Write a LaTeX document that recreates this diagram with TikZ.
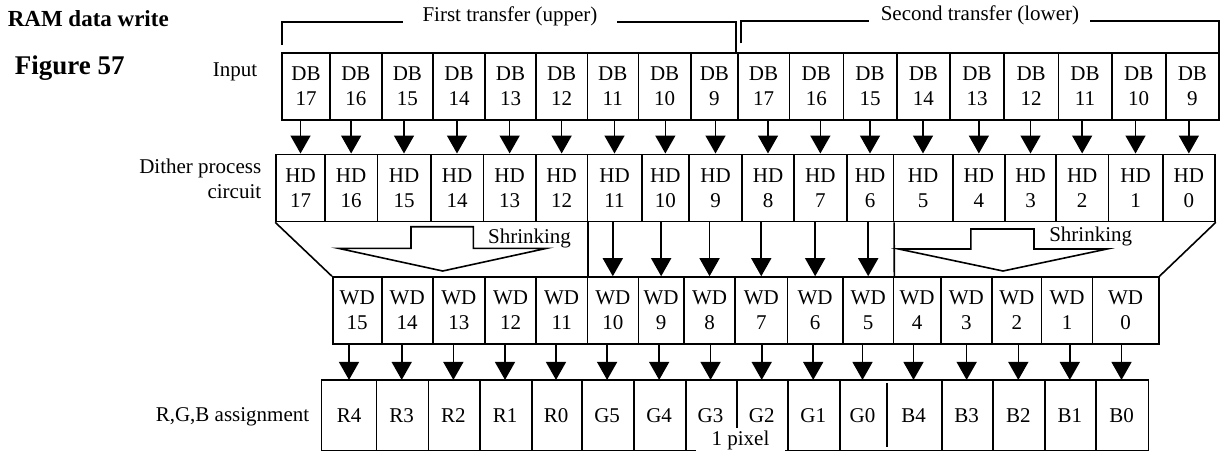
\documentclass[tikz,border=0pt]{standalone}
\usepackage{fontspec}
\setmainfont{Liberation Serif}
\usetikzlibrary{arrows.meta}
\newcommand\mkcell[7]{\node[#1, minimum width={(#4-#3)*1pt}, minimum height={(#6-#5)*1pt}] (#2) at ({(#3+#4)/2},{(#5+#6)/2}) {#7};}
\begin{document}
\begin{tikzpicture}[x=1pt,y=-1pt, line width=1.6pt,
  cellbox/.style={draw, inner sep=0pt, align=center, font=\fontsize{21}{25}\selectfont},
  rcell/.style={inner sep=0pt, text height=14.5pt, text depth=0pt, font=\fontsize{21}{25}\selectfont},
  arr/.style={-{Triangle[width=20pt,length=18pt]}},
  lbl/.style={font=\fontsize{21}{25}\selectfont, inner sep=0pt},
  outline/.style={line join=miter}]
\useasboundingbox (0,0) rectangle (1222,451);

% titles and row labels
\node[inner sep=0pt, font=\bfseries\fontsize{23}{27}\selectfont, anchor=base west] (title) at (7,26) {RAM data write};
\node[inner sep=0pt, font=\bfseries\fontsize{27}{31}\selectfont, anchor=base west] (fig) at (14,74) {Figure 57};
\node[lbl, anchor=base east] (inp) at (258,76.7) {Input};
\node[lbl, anchor=base east] (dith1) at (262,173.3) {Dither process};
\node[lbl, anchor=base east] (dith2) at (262,198.3) {circuit};
\node[lbl, anchor=base east] (rgb) at (310,421) {R,G,B assignment};

% transfer brackets
\node[lbl, anchor=base west] (t1) at (421.7,21.7) {First transfer (upper)};
\node[lbl, anchor=base west] (t2) at (880,20.7) {Second transfer (lower)};
\draw (282,45) |- (403,22);
\draw (617,22) -| (736,53);
\draw (740.7,43.3) |- (869,20.7);
\draw (1090,20.7) -| (1219,52);

% DB row
\foreach \nm/\a/\b/\n in {dA17/282/330/17, dA16/330/381.7/16, dA15/381.7/433/15, dA14/433/485/14, dA13/485/536/13, dA12/536/587.3/12, dA11/587.3/638.3/11, dA10/638.3/691/10, dA9/691/737.7/9, dB17/737.7/789.3/17, dB16/789.3/843.3/16, dB15/843.3/896.7/15, dB14/896.7/950/14, dB13/950/1004/13, dB12/1004/1058.3/12, dB11/1058.3/1111.7/11, dB10/1111.7/1165.7/10, dB9/1165.7/1219/9}
  {\mkcell{cellbox}{\nm}{\a}{\b}{53}{120}{DB\\\n}}

% HD row
\foreach \nm/\a/\b/\n in {hd17/276/325/17, hd16/325/377.3/16, hd15/377.3/430.7/15, hd14/430.7/483.3/14, hd13/483.3/536/13, hd12/536/587.3/12, hd11/587.3/641.7/11, hd10/641.7/689/10, hd9/689/742/9, hd8/742/794/8, hd7/794/846.7/7, hd6/846.7/893.3/6, hd5/893.3/952.7/5, hd4/952.7/1005/4, hd3/1005/1056/3, hd2/1056/1108.3/2, hd1/1108.3/1162.7/1, hd0/1162.7/1215/0}
  {\mkcell{cellbox}{\nm}{\a}{\b}{154.3}{221.5}{HD\\\n}}

% WD row
\foreach \nm/\a/\b/\n in {wd15/332.7/381.7/15, wd14/381.7/432.7/14, wd13/432.7/485/13, wd12/485/536/12, wd11/536/587.3/11, wd10/587.3/638.3/10, wd9/638.3/684/9, wd8/684/735.1/8, wd7/735.1/787.4/7, wd6/787.4/842.9/6, wd5/842.9/893.5/5, wd4/893.5/940.7/4, wd3/940.7/992/3, wd2/992/1041.6/2, wd1/1041.6/1092.5/1, wd0/1092.5/1158.7/0}
  {\mkcell{cellbox}{\nm}{\a}{\b}{277}{344}{WD\\\n}}

% RGB row
\foreach \nm/\a/\b/\n in {r4/322.3/375.7/R4, r3/375.7/427.7/R3, r2/427.7/479/R2, r1/479/531/R1, r0/531/581/R0, g5/581/633.2/G5, g4/633.2/685.1/G4, g3/685.1/736/G3, g2/736/787.4/G2, g1/787.4/839/G1, g0/839/886/G0, b4/886/941/B4, b3/941/992.3/B3, b2/992.3/1044.3/B2, b1/1044.3/1095.3/B1, b0/1095.3/1147.7/B0}
  {\mkcell{rcell}{\nm}{\a}{\b}{380.7}{449.5}{\n}}
\draw (r4.north west) rectangle (b0.south east);
\foreach \nm in {r4,r3,r2,r1,r0,g5,g4,g3,g2,g1,b4,b3,b2,b1}
  \draw (\nm.north east) -- (\nm.south east);
\draw ([yshift=-3pt]g0.north east) -- ([yshift=3pt]g0.south east);
\node[fill=white, inner sep=0pt, minimum width=89pt, minimum height=26pt, anchor=north, font=\fontsize{21}{25}\selectfont] (pix) at (740.5,427) {1 pixel};

% arrows DB -> HD
\foreach \src/\dst in {dA17/hd17, dA16/hd16, dA15/hd15, dA14/hd14, dA13/hd13, dA12/hd12, dA11/hd11, dA10/hd10, dA9/hd9, dB17/hd8, dB16/hd7, dB15/hd6, dB14/hd5, dB13/hd4, dB12/hd3, dB11/hd2, dB10/hd1, dB9/hd0}
  \draw[arr] (\dst.north |- \src.south) -- (\dst.north);

% arrows HD -> WD
\foreach \src/\dst in {hd11/wd10, hd10/wd9, hd9/wd8, hd8/wd7, hd7/wd6, hd6/wd5}
  \draw[arr] (\dst.north |- \src.south) -- (\dst.north);

% arrows WD -> RGB
\foreach \src/\dst in {wd15/r4, wd14/r3, wd13/r2, wd12/r1, wd11/r0, wd10/g5, wd9/g4, wd8/g3, wd7/g2, wd6/g1, wd5/g0, wd4/b4, wd3/b3, wd2/b2, wd1/b1, wd0/b0}
  \draw[arr] (\dst.north |- \src.south) -- (\dst.north);

% funnel lines
\draw (hd17.south west) -- (wd15.north west);
\draw (hd0.south east) -- (wd0.north east);
\draw (hd12.south east) -- (wd11.north east);
\draw (hd6.south east) -- (wd5.north east);

% shrinking arrows
\draw[outline] (411,226.7) -- (473.3,226.7) -- (473.3,248.3) -- (546.7,248.3) -- (442.7,271) -- (338.3,248.3) -- (411,248.3) -- cycle;
\node[lbl, anchor=base west] (shl) at (487.3,243.3) {Shrinking};
\draw[outline] (970.9,229) -- (1034,229) -- (1034,249) -- (1107,249) -- (1003,271) -- (898.7,249) -- (970.9,249) -- cycle;
\node[lbl, anchor=base west] (shr) at (1048.5,241.6) {Shrinking};
\end{tikzpicture}
\end{document}
